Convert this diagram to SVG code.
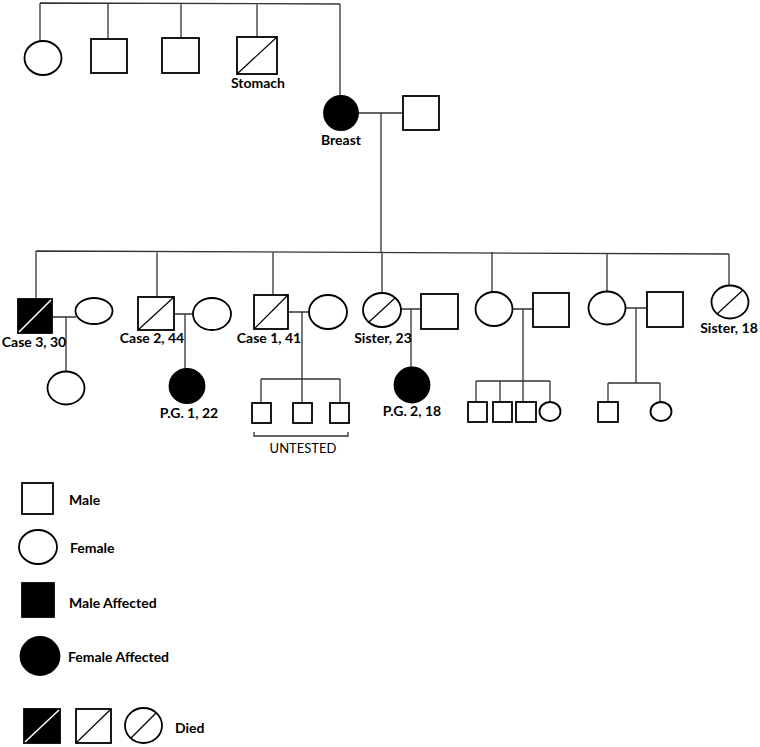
<svg xmlns="http://www.w3.org/2000/svg" width="760" height="747" viewBox="0 0 760 747">
<style>
.s{fill:#fff;stroke:#000;stroke-width:1.8}
.f{fill:#000;stroke:#000;stroke-width:1.8}
.d{stroke:#000;stroke-width:1.2;fill:none}
.w{stroke:#fff;stroke-width:1.6}
.c{fill:none;stroke:#333;stroke-width:1.3}
text{font-family:Lato,"Liberation Sans",sans-serif;font-weight:bold;font-size:14px;fill:#000}
.m{text-anchor:middle}
.r{font-weight:normal;font-size:13px}
</style>
<rect width="760" height="747" fill="#fff"/>
<g id="connectors">
<path class="c" d="M40,3 L340,4 M40,3 V41 M108,3 V39 M181,3 V38 M257,3 V37 M340,4 V96"/>
<path class="c" d="M358,113 H403 M381,113 V252"/>
<path class="c" d="M36,251 L729,254 M36,251 V299 M157,251 V297 M273,252 V295 M382,252 V293 M492,252 V292 M607,253 V291 M729,254 V286"/>
<path class="c" d="M52,317 H76 M66,317 V372"/>
<path class="c" d="M174,314 H193 M185,314 V369"/>
<path class="c" d="M288,312 H309 M302,312 V379 M261,379 H340 M261,379 V403 M302,379 V403 M340,379 V403"/>
<path class="c" d="M401,309 H421 M411,309 V367"/>
<path class="c" d="M512,309 H533 M523,309 V381 M476,381 H550 M476,381 V402 M500,381 V402 M523,381 V402 M550,381 V402"/>
<path class="c" d="M626,308 H647 M636,308 V383 M608,383 H660 M608,383 V402 M660,383 V402"/>
<path class="c" d="M254,432 V436 H348 V432"/>
</g>
<g id="gen1-sister"><ellipse class="s" cx="43" cy="58" rx="18.5" ry="17"/></g>
<g id="gen1-brother1"><rect class="s" x="91" y="39" width="36" height="34"/></g>
<g id="gen1-brother2"><rect class="s" x="162" y="38" width="37" height="35"/></g>
<g id="gen1-brother3"><rect class="s" x="237" y="37" width="40" height="37"/><line class="d" x1="237" y1="74" x2="277" y2="37"/><text class="m" x="258" y="88">Stomach</text></g>
<g id="grandmother"><circle class="f" cx="341" cy="113" r="17"/><text class="m" x="341" y="145">Breast</text></g>
<g id="grandfather"><rect class="s" x="403" y="96" width="36" height="34"/></g>
<g id="case3"><rect class="f" x="18" y="299" width="34" height="34"/><line class="w" x1="19" y1="332" x2="51" y2="300"/><text class="m" x="34" y="347">Case 3, 30</text></g>
<g id="case3-wife"><ellipse class="s" cx="94" cy="311" rx="18.5" ry="13"/></g>
<g id="case3-daughter"><ellipse class="s" cx="66" cy="388" rx="18.5" ry="16.5"/></g>
<g id="case2"><rect class="s" x="138" y="297" width="36" height="33"/><line class="d" x1="138" y1="330" x2="174" y2="297"/><text class="m" x="152" y="343">Case 2, 44</text></g>
<g id="case2-wife"><ellipse class="s" cx="212" cy="314" rx="19" ry="16"/></g>
<g id="pg1"><ellipse class="f" cx="187" cy="386" rx="17.5" ry="17"/><text class="m" x="189" y="418">P.G. 1, 22</text></g>
<g id="case1"><rect class="s" x="254" y="295" width="34" height="34"/><line class="d" x1="254" y1="329" x2="288" y2="295"/><text class="m" x="269" y="343">Case 1, 41</text></g>
<g id="case1-wife"><ellipse class="s" cx="328" cy="312" rx="19" ry="17"/></g>
<g id="case1-son1"><rect class="s" x="252" y="403" width="19" height="20"/></g>
<g id="case1-son2"><rect class="s" x="293" y="403" width="19" height="20"/></g>
<g id="case1-son3"><rect class="s" x="330" y="403" width="19" height="20"/></g>
<g id="untested"><text class="m r" x="303" y="453">UNTESTED</text></g>
<g id="sister23"><ellipse class="s" cx="382" cy="310" rx="19" ry="17"/><line class="d" x1="369" y1="322" x2="395" y2="298"/><text class="m" x="383" y="343">Sister, 23</text></g>
<g id="sister23-husband"><rect class="s" x="421" y="294" width="37" height="35"/></g>
<g id="pg2"><ellipse class="f" cx="412" cy="385" rx="17.5" ry="17.5"/><text class="m" x="412" y="416">P.G. 2, 18</text></g>
<g id="sister5"><ellipse class="s" cx="494" cy="309" rx="18.5" ry="17"/></g>
<g id="sister5-husband"><rect class="s" x="533" y="293" width="36" height="34"/></g>
<g id="s5-c1"><rect class="s" x="468" y="402" width="19" height="20"/></g>
<g id="s5-c2"><rect class="s" x="493" y="402" width="19" height="20"/></g>
<g id="s5-c3"><rect class="s" x="516" y="402" width="20" height="20"/></g>
<g id="s5-c4"><ellipse class="s" cx="550" cy="411.5" rx="10.5" ry="9.5"/></g>
<g id="sister6"><ellipse class="s" cx="607" cy="308" rx="18.5" ry="16.5"/></g>
<g id="sister6-husband"><rect class="s" x="647" y="292" width="36" height="35"/></g>
<g id="s6-c1"><rect class="s" x="598" y="402" width="20" height="20"/></g>
<g id="s6-c2"><ellipse class="s" cx="661" cy="411.5" rx="10.5" ry="9.5"/></g>
<g id="sister18"><ellipse class="s" cx="730" cy="302" rx="18.5" ry="16.5"/><line class="d" x1="717" y1="314" x2="743" y2="290"/><text class="m" x="729" y="333">Sister, 18</text></g>
<g id="legend-male"><rect class="s" x="22" y="483" width="31" height="31"/><text x="69" y="505">Male</text></g>
<g id="legend-female"><ellipse class="s" cx="38" cy="547" rx="19" ry="17"/><text x="70" y="553">Female</text></g>
<g id="legend-male-affected"><rect class="f" x="22" y="583" width="32" height="34"/><text x="69" y="608">Male Affected</text></g>
<g id="legend-female-affected"><ellipse class="f" cx="40" cy="656" rx="19.5" ry="19"/><text x="68" y="662">Female Affected</text></g>
<g id="legend-died">
<rect class="f" x="24" y="709" width="36" height="34"/><line class="w" x1="25" y1="742" x2="59" y2="710"/>
<rect class="s" x="76" y="709" width="35" height="34"/><line class="d" x1="76" y1="743" x2="111" y2="709"/>
<ellipse class="s" cx="143.5" cy="725.5" rx="18.5" ry="17.5"/><line class="d" x1="131" y1="738" x2="156" y2="713"/>
<text x="175" y="733">Died</text>
</g>
</svg>
